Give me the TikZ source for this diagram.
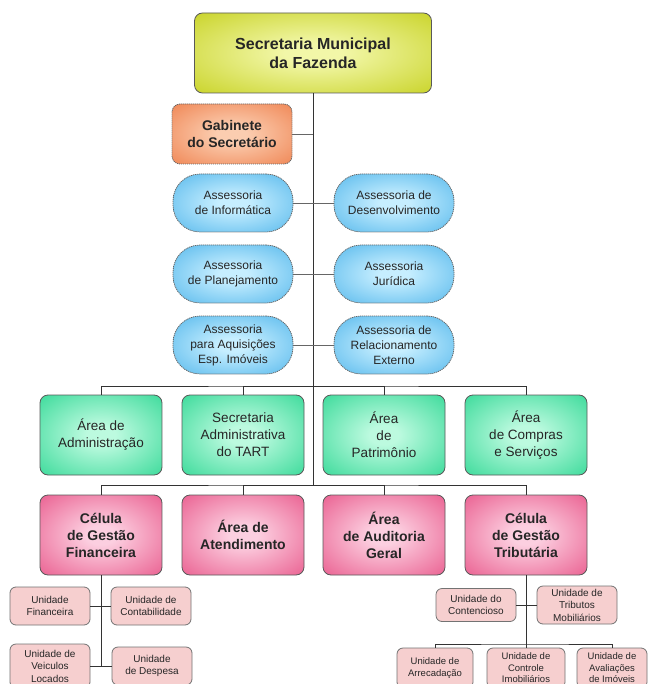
\documentclass[tikz,border=0pt]{standalone}
\usepackage{fontspec}
\setmainfont{Liberation Sans}
\definecolor{topout}{HTML}{BCC800}
\definecolor{topin}{HTML}{F2F7A8}
\definecolor{gabout}{HTML}{EC7038}
\definecolor{gabin}{HTML}{FBCDB0}
\definecolor{assout}{HTML}{34A8E6}
\definecolor{assin}{HTML}{C6EEFF}
\definecolor{areaout}{HTML}{12D084}
\definecolor{areain}{HTML}{BCFADF}
\definecolor{celout}{HTML}{E43C77}
\definecolor{celin}{HTML}{FCCFE0}
\definecolor{unifill}{HTML}{F6CFCF}
\definecolor{linecol}{HTML}{333333}
\colorlet{glowin}{white}
\colorlet{glowout}{gray}
\pgfdeclareradialshading[glowin,glowout]{glow}{\pgfpoint{0bp}{0bp}}{color(0bp)=(glowin); color(6bp)=(glowin); color(46bp)=(glowout); color(75bp)=(glowout)}
\begin{document}
\begin{tikzpicture}[x=1pt,y=-1pt,
  box/.style={draw=black!65,line width=0.8pt,rounded corners=8pt,align=center,inner sep=2pt,text=black!85},
  glowing/.style 2 args={/utils/exec={\colorlet{glowin}{#1}\colorlet{glowout}{#2}},shading=glow},
  topbox/.style={box,minimum width=237pt,minimum height=80pt,glowing={topin}{topout},font=\bfseries\fontsize{16}{19}\selectfont},
  gabbox/.style={box,draw=black!60,dash pattern=on 1.2pt off 0.8pt,minimum width=120pt,minimum height=60pt,glowing={gabin}{gabout},font=\bfseries\fontsize{14}{17}\selectfont},
  assbox/.style={box,draw=black!60,dash pattern=on 1.2pt off 0.8pt,rounded corners=27pt,minimum width=120pt,minimum height=58pt,glowing={assin}{assout},font=\fontsize{12}{15}\selectfont},
  areabox/.style={box,minimum width=122pt,minimum height=80pt,glowing={areain}{areaout},font=\fontsize{13.5}{17}\selectfont},
  celbox/.style={box,minimum width=122pt,minimum height=80pt,glowing={celin}{celout},font=\bfseries\fontsize{14}{17}\selectfont},
  unibox/.style={box,draw=black!55,rounded corners=6pt,fill=unifill,minimum width=80pt,minimum height=38pt,font=\fontsize{10}{12.5}\selectfont},
  lowbox/.style={unibox,minimum height=40pt,font=\fontsize{9.5}{11.5}\selectfont},
  link/.style={draw=linecol,line width=0.9pt},
  dots/.style={draw=black!60,line width=0.8pt,dash pattern=on 1.2pt off 0.8pt}]
\clip (0,0) rectangle (649,684);
\fill[white] (0,0) rectangle (649,684);

% top
\node[topbox] (sec) at (313,53) {Secretaria Municipal\\da Fazenda};
\node[gabbox] (gab) at (232,134) {Gabinete\\do Secretário};

% assessorias
\node[assbox] (ainf) at (233,203) {Assessoria\\de Informática};
\node[assbox] (ades) at (394,203) {Assessoria de\\Desenvolvimento};
\node[assbox] (apla) at (233,274) {Assessoria\\de Planejamento};
\node[assbox] (ajur) at (394,274) {Assessoria\\Jurídica};
\node[assbox] (aaqu) at (233,345) {Assessoria\\para Aquisições\\Esp. Imóveis};
\node[assbox] (arel) at (394,345) {Assessoria de\\Relacionamento\\Externo};

% areas
\node[areabox] (adm) at (101,435) {Área de\\Administração};
\node[areabox] (tart) at (243,435) {Secretaria\\Administrativa\\do TART};
\node[areabox] (pat) at (384,435) {Área\\de\\Patrimônio};
\node[areabox] (comp) at (526,435) {Área\\de Compras\\e Serviços};

% celulas
\node[celbox] (cfin) at (101,535) {Célula\\de Gestão\\Financeira};
\node[celbox] (aten) at (243,535) {Área de\\Atendimento};
\node[celbox] (audi) at (384,535) {Área\\de Auditoria\\Geral};
\node[celbox] (ctri) at (526,535) {Célula\\de Gestão\\Tributária};

% unidades
\node[unibox] (ufin) at (50,606) {Unidade\\Financeira};
\node[unibox] (ucon) at (151,606) {Unidade de\\Contabilidade};
\node[unibox,minimum height=44pt] (uvei) at (50,666) {Unidade de\\Veiculos\\Locados};
\node[unibox] (udes) at (152,666) {Unidade\\de Despesa};
\node[unibox,minimum height=33pt] (ucnt) at (476,605) {Unidade do\\Contencioso};
\node[unibox] (utri) at (577,605) {Unidade de\\Tributos\\Mobiliários};
\node[lowbox,minimum width=76pt] (uarr) at (435,668) {Unidade de\\Arrecadação};
\node[lowbox,minimum width=78pt] (uctl) at (526,668) {Unidade de\\Controle\\Imobiliários};
\node[lowbox,minimum width=70pt] (uava) at (612,668) {Unidade de\\Avaliações\\de Imóveis};

\coordinate (abus) at (313,386);
\coordinate (cbus) at (313,485);
\coordinate (lend) at (101,666);
\coordinate (rbus) at (526,644);

% ligacoes
\draw[link] (sec) -- (cbus);
\draw[dots] (gab) -- (gab -| sec);
\draw[dots] (ainf) -- (ades);
\draw[dots] (apla) -- (ajur);
\draw[dots] (aaqu) -- (arel);
\draw[link] (adm) |- (abus) -| (comp);
\draw[link] (abus) -| (tart);
\draw[link] (abus) -| (pat);
\draw[link] (cfin) |- (cbus) -| (ctri);
\draw[link] (cbus) -| (aten);
\draw[link] (cbus) -| (audi);
\draw[link] (cfin) -- (lend);
\draw[link] (ufin) -- (ucon);
\draw[link] (uvei) -- (udes);
\draw[link] (ctri) -- (rbus);
\draw[link] (ucnt) -- (utri);
\draw[link] (uarr) |- (rbus) -| (uava);
\draw[link] (rbus) -- (uctl);
\end{tikzpicture}
\end{document}
